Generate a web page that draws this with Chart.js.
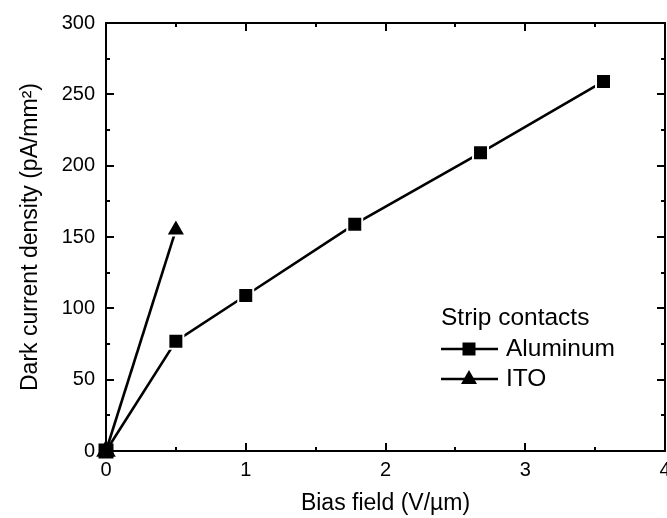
<!DOCTYPE html>
<html>
<head>
<meta charset="utf-8">
<script src="https://cdn.jsdelivr.net/npm/chart.js@4"></script>
<style>
  html, body { margin: 0; padding: 0; background: #fff; overflow: hidden; }
  #wrap { width: 667px; height: 518px; position: relative; }
  canvas { display: block; }
</style>
</head>
<body>
<div id="wrap"><canvas id="chart"></canvas></div>
<script>
// values
const biasAl = [0, 0.5, 1.0, 1.78, 2.68, 3.56];
const currentAl = [0, 77, 109, 159, 209, 259];
const biasIto = [0, 0.5];
const currentIto = [0, 155];

const legendTitle = 'Strip contacts';
const seriesNames = ['Aluminum', 'ITO'];

const FONT = "'Liberation Sans', Arial, sans-serif";

const toPoints = (xs, ys) => xs.map((v, i) => ({ x: v, y: ys[i] }));

// inward ticks on all four sides plus the box
const frameTicks = {
  id: 'frameTicks',
  afterDatasetsDraw(chart) {
    const { ctx, chartArea: a, scales: { x, y } } = chart;
    ctx.save();
    ctx.strokeStyle = '#000';
    ctx.lineWidth = 2;
    ctx.strokeRect(a.left, a.top, a.right - a.left, a.bottom - a.top);
    ctx.beginPath();
    for (let v = x.min; v <= x.max + 1e-9; v += 0.5) {
      const px = Math.round(x.getPixelForValue(v));
      const len = Math.abs(v - Math.round(v)) < 1e-9 ? 8 : 4;
      ctx.moveTo(px, a.bottom); ctx.lineTo(px, a.bottom - len);
      ctx.moveTo(px, a.top); ctx.lineTo(px, a.top + len);
    }
    for (let v = y.min; v <= y.max + 1e-9; v += 25) {
      const py = Math.round(y.getPixelForValue(v));
      const len = v % 50 === 0 ? 8 : 4;
      ctx.moveTo(a.left, py); ctx.lineTo(a.left + len, py);
      ctx.moveTo(a.right, py); ctx.lineTo(a.right - len, py);
    }
    ctx.stroke();
    ctx.restore();
  }
};

const boxLegend = {
  id: 'boxLegend',
  afterDraw(chart) {
    const ctx = chart.ctx;
    const x0 = 441, lineEnd = 498, mid = 469, textX = 506;
    const rows = [349, 379];
    ctx.save();
    ctx.fillStyle = '#000';
    ctx.strokeStyle = '#000';
    ctx.font = '24.5px ' + FONT;
    ctx.textBaseline = 'middle';
    ctx.fillText(legendTitle, x0, 318);
    rows.forEach((ry, i) => {
      ctx.lineWidth = 2.4;
      ctx.beginPath();
      ctx.moveTo(x0, ry); ctx.lineTo(lineEnd, ry);
      ctx.stroke();
      ctx.beginPath();
      if (i === 0) {
        ctx.rect(mid - 6.5, ry - 6.5, 13, 13);
      } else {
        ctx.moveTo(mid, ry - 9);
        ctx.lineTo(mid + 8, ry + 5);
        ctx.lineTo(mid - 8, ry + 5);
        ctx.closePath();
      }
      ctx.fill();
      ctx.fillText(seriesNames[i], textX, ry);
    });
    ctx.restore();
  }
};

const ctx = document.getElementById('chart').getContext('2d');
new Chart(ctx, {
  type: 'line',
  data: {
    datasets: [
      {
        label: seriesNames[0],
        data: toPoints(biasAl, currentAl),
        borderColor: '#000',
        borderWidth: 2.6,
        backgroundColor: '#000',
        pointStyle: 'rect',
        pointRadius: 10.6,
        pointBackgroundColor: '#000',
        pointBorderColor: '#fff',
        pointBorderWidth: biasAl.map((v, i) => (i === 0 ? 0 : 2)),
        tension: 0,
        clip: false,
      },
      {
        label: seriesNames[1],
        data: toPoints(biasIto, currentIto),
        borderColor: '#000',
        borderWidth: 2.6,
        backgroundColor: '#000',
        pointStyle: 'triangle',
        pointRadius: 11.3,
        pointBackgroundColor: '#000',
        pointBorderColor: '#fff',
        pointBorderWidth: biasIto.map((v, i) => (i === 0 ? 0 : 2)),
        tension: 0,
        clip: false,
      },
    ],
  },
  options: {
    responsive: true,
    maintainAspectRatio: false,
    animation: false,
    events: [],
    layout: { autoPadding: false, padding: { left: 0, top: 22, right: 2, bottom: 0 } },
    plugins: {
      legend: { display: false },
      tooltip: { enabled: false },
    },
    scales: {
      x: {
        type: 'linear',
        min: 0,
        max: 4,
        grid: { display: false, drawTicks: false },
        border: { display: false },
        ticks: {
          stepSize: 1,
          color: '#000',
          padding: 7,
          font: { family: FONT, size: 20 },
        },
        title: {
          display: true,
          text: 'Bias field (V/\u00b5m)',
          color: '#000',
          font: { family: FONT, size: 23 },
          padding: { top: 0, bottom: 1 },
        },
        afterFit(scale) {
          scale.height = 67;
          scale.paddingLeft = 0;
          scale.paddingRight = 0;
        },
      },
      y: {
        type: 'linear',
        min: 0,
        max: 300,
        grid: { display: false, drawTicks: false },
        border: { display: false },
        ticks: {
          stepSize: 50,
          color: '#000',
          padding: 11,
          font: { family: FONT, size: 20 },
        },
        title: {
          display: true,
          text: 'Dark current density (pA/mm\u00b2)',
          color: '#000',
          font: { family: FONT, size: 23 },
          padding: { top: 17, bottom: 0 },
        },
        afterFit(scale) {
          scale.width = 106;
        },
      },
    },
  },
  plugins: [frameTicks, boxLegend],
});
</script>
</body>
</html>
